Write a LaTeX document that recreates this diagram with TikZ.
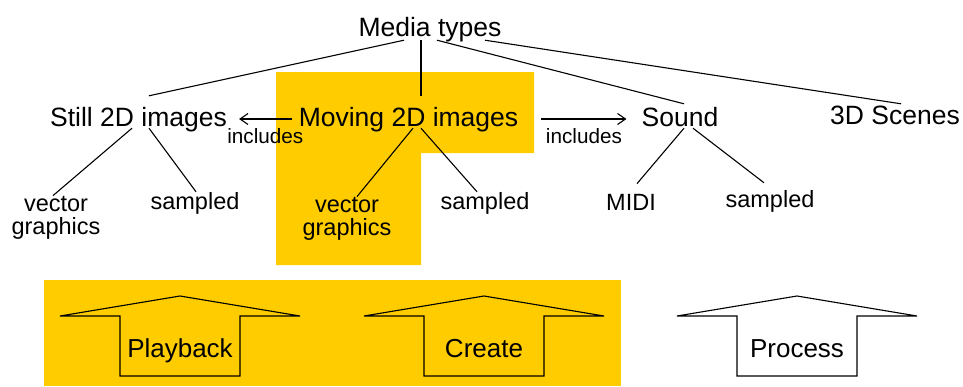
\documentclass[tikz,border=0pt]{standalone}
\usepackage{fontspec}
\setmainfont{Liberation Sans}
\usetikzlibrary{arrows.meta}
\definecolor{hiyellow}{RGB}{255,204,0}

\tikzset{
  line/.style={line width=1.1pt},
  top/.style={font=\fontsize{26.5}{30}\selectfont, inner sep=0pt, anchor=base, text height=19pt, text depth=4pt},
  kind/.style={font=\fontsize{26.5}{30}\selectfont, inner sep=0pt, anchor=base, text height=30pt, text depth=2pt},
  leaf/.style={font=\fontsize{23.5}{23}\selectfont, inner sep=0pt, anchor=base, align=center},
  lbl/.style={font=\fontsize{20.7}{24}\selectfont, inner sep=0pt},
  incl/.style={line, -{Straight Barb[length=8pt, width=11pt, line width=1.1pt]}},
  upbox/.style={line, line join=miter},
  btn/.style={font=\fontsize{26}{30}\selectfont, inner sep=0pt, anchor=base}
}

\begin{document}
\begin{tikzpicture}[x=1pt, y=-1pt]
\useasboundingbox (0,0) rectangle (963,386);
% highlighted areas
\fill[hiyellow] (276,72) -- (534,72) -- (534,153) -- (421,153) -- (421,265) -- (276,265) -- cycle;
\fill[hiyellow] (44,280) rectangle (621,386);

\node[top] (media) at (430,36) {Media types};
\node[kind] (still) at (138.5,126) {Still 2D images};
\node[kind] (moving) at (408.5,126) {Moving 2D images};
\node[kind, text height=22pt] (sound) at (680,126) {Sound};
\node[kind, text height=20pt] (scenes) at (895,124) {3D Scenes};

\node[leaf] (vecA) at (56,234) {vector\\graphics};
\node[leaf] (sampA) at (195,209) {sampled};
\node[leaf] (vecB) at (347,235) {vector\\graphics};
\node[leaf] (sampB) at (485,209) {sampled};
\node[leaf] (midi) at (631,210) {MIDI};
\node[leaf] (sampC) at (770,207.5) {sampled};

\draw[line] ([xshift=-26pt]media.south) -- ([xshift=10.5pt]still.north);
\draw[line] ([xshift=-9pt]media.south) -- ([xshift=12.5pt]moving.north);
\draw[line] ([xshift=7pt]media.south) -- ([xshift=4pt]sound.north);
\draw[line] ([xshift=55pt]media.south) -- ([xshift=6pt]scenes.north);

\draw[line] ([xshift=-6.5pt]still.south) -- ([xshift=-3pt]vecA.north);
\draw[line] ([xshift=10.5pt]still.south) -- ([xshift=1pt]sampA.north);
\draw[line] ([xshift=4.5pt]moving.south) -- ([xshift=10pt]vecB.north);
\draw[line] ([xshift=12.5pt]moving.south) -- ([xshift=-8pt]sampB.north);
\draw[line] ([xshift=4pt]sound.south) -- ([xshift=6pt,yshift=10pt]midi.north);
\draw[line] ([xshift=13pt]sound.south) -- ([xshift=-6pt,yshift=7.5pt]sampC.north);

\draw[incl] ([xshift=-7pt,yshift=7pt]moving.base west) -- node[lbl, midway, below=9pt] {includes} ([xshift=12pt,yshift=7pt]still.base east);
\draw[incl] ([xshift=23pt,yshift=7pt]moving.base east) -- node[lbl, midway, below=9pt] {includes} ([xshift=-15pt,yshift=7pt]sound.base west);

% up arrows
\draw[upbox] (60,316) -- (180,296) -- (300,316) -- (240,316) -- (240,376) -- (120,376) -- (120,316) -- cycle;
\draw[upbox] (364,316) -- (484,296) -- (604,316) -- (544,316) -- (544,376) -- (424,376) -- (424,316) -- cycle;
\draw[upbox] (677,316) -- (797,296) -- (917,316) -- (857,316) -- (857,376) -- (737,376) -- (737,316) -- cycle;
\node[btn] (playback) at (180,357) {Playback};
\node[btn] (create) at (484,357) {Create};
\node[btn] (process) at (797,357) {Process};
\end{tikzpicture}
\end{document}
